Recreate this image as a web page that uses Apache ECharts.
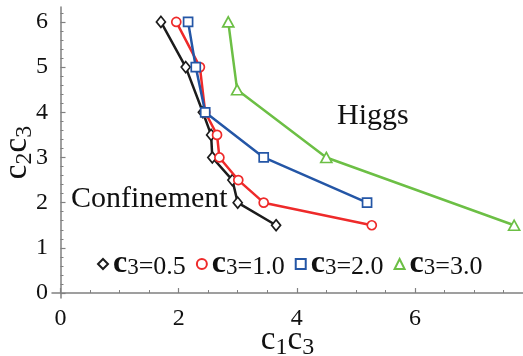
<!DOCTYPE html>
<html>
<head>
<meta charset="utf-8">
<script src="https://cdn.jsdelivr.net/npm/echarts@6/dist/echarts.min.js"></script>
<style>html,body{margin:0;padding:0;background:#fff;}#c{width:523px;height:356px;}</style>
</head>
<body>
<div id="c"></div>
<script>
// ---- data ----
var seriesNames = ['0.5', '1.0', '2.0', '3.0'];
var yC05 = [6, 5, 4, 3.5, 3, 2.5, 2, 1.5];
var xC05 = [1.70, 2.12, 2.41, 2.55, 2.57, 2.91, 3.00, 3.65];
var yC10 = [6, 5, 4, 3.5, 3, 2.5, 2, 1.5];
var xC10 = [1.96, 2.36, 2.45, 2.65, 2.69, 3.01, 3.44, 5.27];
var yC20 = [6, 5, 4, 3, 2];
var xC20 = [2.16, 2.29, 2.45, 3.44, 5.19];
var yC30 = [6, 4.5, 3, 1.5];
var xC30 = [2.84, 2.99, 4.50, 7.68];
var xMajorTicks = [0, 2, 4, 6];
var xMinorTicks = [0.5, 1, 1.5, 2.5, 3, 3.5, 4.5, 5, 5.5, 6.5, 7, 7.5];
var yMajorTicks = [0, 1, 2, 3, 4, 5, 6];
var yMinorTicks = [0.2, 0.4, 0.6, 0.8, 1.2, 1.4, 1.6, 1.8, 2.2, 2.4, 2.6, 2.8,
                   3.2, 3.4, 3.6, 3.8, 4.2, 4.4, 4.6, 4.8, 5.2, 5.4, 5.6, 5.8, 6.2];

function pairs(xs, ys) { return xs.map(function (x, i) { return [x, ys[i]]; }); }

var colors = ['#1c1c1c', '#ee2a2a', '#2456a6', '#6cbf45'];
var symbols = ['diamond', 'circle', 'rect', 'triangle'];
var symSizes = [[9, 11], 9, 9, [11, 10]];
var datas = [pairs(xC05, yC05), pairs(xC10, yC10), pairs(xC20, yC20), pairs(xC30, yC30)];

var FONT = '"Liberation Serif","Times New Roman",serif';
var XMIN = -0.144, XMAX = 7.83, YMIN = -0.11, YMAX = 6.33;

var axisColor = '#808080';

var series = seriesNames.map(function (n, i) {
  return {
    type: 'line', name: n, xAxisIndex: 0, yAxisIndex: 0,
    data: datas[i], symbol: symbols[i], symbolSize: symSizes[i],
    showAllSymbol: true,
    lineStyle: { color: colors[i], width: 2.5 },
    itemStyle: { color: '#fff', borderColor: colors[i], borderWidth: 1.7 },
    emphasis: { disabled: true }, animation: false, z: 3 + i
  };
});

var chart = echarts.init(document.getElementById('c'), null, { renderer: 'canvas' });
var nameRich = {
  c: { fontFamily: FONT, fontSize: 33, color: '#111' },
  s: { fontFamily: FONT, fontSize: 24, color: '#111', padding: [16, 0, 0, 0] }
};
chart.setOption({
  animation: false,
  backgroundColor: '#fff',
  grid: { left: 52, right: 0, top: 7, bottom: 58, containLabel: false, outerBoundsMode: 'none' },
  legend: {
    data: seriesNames.map(function (n, i) { return { name: n, icon: symbols[i] }; }),
    left: 92, top: 243, itemWidth: 10, itemHeight: 10, itemGap: 10, itemTextGap: 5,
    selectedMode: false,
    formatter: function (n) { return '{c|c}{s|3}{t|=' + n + '}'; },
    textStyle: {
      rich: {
        c: { fontFamily: FONT, fontSize: 32, fontWeight: 'bold', color: '#111' },
        s: { fontFamily: FONT, fontSize: 23, color: '#111', padding: [7, 0, 0, 0] },
        t: { fontFamily: FONT, fontSize: 26, color: '#111', padding: [6, 0, 0, 0] }
      }
    }
  },
  xAxis: [{
    type: 'value', min: XMIN, max: XMAX, position: 'bottom',
    axisLine: { onZero: true, lineStyle: { color: axisColor, width: 1.5 } },
    axisTick: { customValues: xMajorTicks, inside: true, length: 5, lineStyle: { color: axisColor, width: 1.2 } },
    axisLabel: { customValues: xMajorTicks, fontFamily: FONT, fontSize: 24, color: '#111', margin: 9 },
    splitLine: { show: false },
    name: '{c|c}{s|1}{c|c}{s|3}', nameLocation: 'middle', nameGap: 22, nameMoveOverlap: false,
    nameTextStyle: { rich: nameRich }
  }, {
    type: 'value', min: XMIN, max: XMAX, position: 'bottom',
    axisLine: { show: true, onZero: true, onZeroAxisIndex: 1, lineStyle: { color: 'rgba(0,0,0,0)' } },
    axisTick: { show: true, customValues: xMinorTicks, inside: true, length: 3, lineStyle: { color: axisColor, width: 1 } },
    axisLabel: { show: false }, splitLine: { show: false }
  }],
  yAxis: [{
    type: 'value', min: YMIN, max: YMAX, position: 'left',
    axisLine: { onZero: true, lineStyle: { color: axisColor, width: 1.5 } },
    axisTick: { customValues: yMajorTicks, inside: true, length: 5, lineStyle: { color: axisColor, width: 1.2 } },
    axisLabel: { customValues: yMajorTicks, fontFamily: FONT, fontSize: 24, color: '#111', margin: 4 },
    splitLine: { show: false },
    name: '{c|c}{s|2}{c|c}{s|3}', nameLocation: 'middle', nameGap: 15, nameMoveOverlap: false,
    nameTextStyle: { rich: nameRich, padding: [0, 0, 0, 0] }
  }, {
    type: 'value', min: YMIN, max: YMAX, position: 'left',
    axisLine: { show: true, onZero: true, onZeroAxisIndex: 1, lineStyle: { color: 'rgba(0,0,0,0)' } },
    axisTick: { show: true, customValues: yMinorTicks, inside: true, length: 3, lineStyle: { color: axisColor, width: 1 } },
    axisLabel: { show: false }, splitLine: { show: false }
  }],
  graphic: [
    { type: 'text', left: 337, top: 101, style: { text: 'Higgs', font: '30px ' + FONT, fill: '#111' } },
    { type: 'text', left: 71, top: 184, style: { text: 'Confinement', font: '30px ' + FONT, fill: '#111' } }
  ],
  series: series
});
</script>
</body>
</html>
